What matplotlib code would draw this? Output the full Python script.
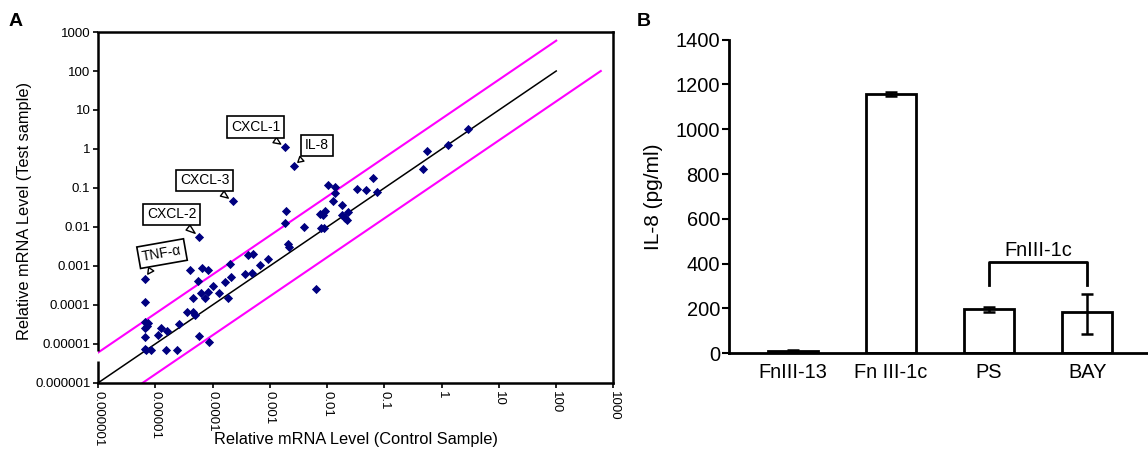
import matplotlib
matplotlib.use("Agg")
import matplotlib.pyplot as plt
from matplotlib.ticker import FixedLocator, NullLocator

plt.rcParams['font.family'] = ['Liberation Sans', 'DejaVu Sans']

# ---- panel A data: relative mRNA levels (control vs test) ----
ctrl = [2.9, 1.27, 0.56, 0.47, 0.063, 0.073, 0.048, 0.033, 0.0103, 0.0137,
        0.014, 0.0127, 0.0183, 0.0236, 0.018, 0.0204, 0.0218, 0.0075, 0.0092, 0.0085,
        0.0079, 0.0088, 0.0040, 0.00192, 0.00183, 0.0021, 0.0022, 0.0064,
        0.00186, 0.0026, 0.000225, 5.9e-5, 6.5e-6,
        6.5e-6, 6.5e-6, 6.5e-6, 7.6e-6, 7.2e-6, 6.5e-6, 6.5e-6, 7.0e-6, 8.3e-6,
        1.1e-5, 1.27e-5, 1.6e-5, 1.56e-5, 2.35e-5, 2.6e-5, 3.6e-5, 4.5e-5, 5.0e-5,
        4.5e-5, 5.9e-5, 8.5e-5, 4.0e-5, 6.5e-5, 8.3e-5, 5.5e-5, 6.3e-5, 7.5e-5,
        8.3e-5, 1.0e-4, 1.31e-4, 1.83e-4, 1.66e-4, 2.07e-4, 1.98e-4, 3.7e-4, 4.9e-4,
        4.2e-4, 5.1e-4, 6.6e-4, 9.2e-4]
test = [3.2, 1.25, 0.91, 0.30, 0.183, 0.081, 0.088, 0.093, 0.12, 0.107,
        0.076, 0.045, 0.037, 0.024, 0.020, 0.017, 0.015, 0.022, 0.026, 0.020,
        0.0095, 0.0095, 0.0101, 0.0256, 0.013, 0.0036, 0.0030, 0.00025,
        1.11, 0.366, 0.045, 0.0056, 0.00047,
        0.000121, 3.7e-5, 2.6e-5, 3.4e-5, 2.9e-5, 1.54e-5, 7.3e-6, 7.0e-6, 7.1e-6,
        1.67e-5, 2.6e-5, 2.2e-5, 7.0e-6, 7.0e-6, 3.3e-5, 6.7e-5, 6.4e-5, 5.6e-5,
        1.48e-4, 1.6e-5, 1.15e-5, 7.7e-4, 8.8e-4, 7.7e-4, 4.2e-4, 2.0e-4, 1.48e-4,
        2.2e-4, 3.0e-4, 2.0e-4, 1.48e-4, 3.8e-4, 5.2e-4, 1.1e-3, 6.3e-4, 6.7e-4,
        1.95e-3, 2.07e-3, 1.03e-3, 1.48e-3]

# callouts: label, point (ctrl, test), box centre
callout_labels = ['CXCL-1', 'IL-8', 'CXCL-3', 'CXCL-2', 'TNF-α']
callout_points = [(0.00186, 1.11), (0.0026, 0.366), (0.000225, 0.045),
                  (5.9e-5, 0.0056), (6.5e-6, 0.00047)]
callout_boxes = [(5.6e-4, 3.65), (6.7e-3, 1.23), (7.3e-5, 0.156),
                 (1.92e-5, 0.021), (1.31e-5, 2.07e-3)]
callout_rot = [0, 0, 0, 0, 10]

decades = [1e-6, 1e-5, 1e-4, 1e-3, 1e-2, 1e-1, 1, 10, 100, 1000]
decade_labels = ['0.000001', '0.00001', '0.0001', '0.001', '0.01', '0.1',
                 '1', '10', '100', '1000']
fold = 6

# ---- panel B data ----
cats = ['FnIII-13', 'Fn III-1c', 'PS', 'BAY']
il8 = [10, 1158, 195, 182]
err_lo = [6, 10, 10, 95]
err_hi = [6, 10, 10, 81]

fig = plt.figure(figsize=(11.48, 4.51), dpi=100)
axA = fig.add_axes([0.0854, 0.151, 0.449, 0.778])
axB = fig.add_axes([0.635, 0.217, 0.365, 0.695])

# ---------------- panel A ----------------
axA.set_xscale('log')
axA.set_yscale('log')
axA.set_xlim(1e-6, 1e3)
axA.set_ylim(1e-6, 1e3)

axA.plot([1e-6, 100], [1e-6, 100], color='black', lw=1.1, zorder=2)
axA.plot([1e-6, 100], [fold * 1e-6, fold * 100], color='#ff00ff', lw=1.5, zorder=2)
axA.plot([fold * 1e-6, fold * 100], [1e-6, 100], color='#ff00ff', lw=1.5, zorder=2)

axA.scatter(ctrl, test, marker='D', s=22, color='#000080', linewidths=0, zorder=3)

for lab, pt, box, rot in zip(callout_labels, callout_points, callout_boxes, callout_rot):
    axA.annotate(lab, xy=pt, xytext=box, ha='center', va='center', fontsize=10,
                 rotation=rot, zorder=4,
                 bbox=dict(boxstyle='square,pad=0.28', fc='white', ec='black', lw=1.2),
                 arrowprops=dict(arrowstyle='wedge,tail_width=0.45,shrink_factor=0.5',
                                 fc='white', ec='black', lw=1.0, shrinkB=4))

axA.xaxis.set_major_locator(FixedLocator(decades))
axA.yaxis.set_major_locator(FixedLocator(decades))
axA.xaxis.set_minor_locator(NullLocator())
axA.yaxis.set_minor_locator(NullLocator())
axA.set_xticklabels(decade_labels, rotation=-90)
axA.set_yticklabels(decade_labels)
axA.tick_params(direction='out', length=3.5, width=1.2, labelsize=9.5, pad=2)

for s in ['top', 'right', 'bottom']:
    axA.spines[s].set_linewidth(1.8)
# left spine drawn in two pieces to show the axis break
axA.spines['left'].set_visible(False)
ytr = axA.get_yaxis_transform()
axA.plot([0, 0], [1e-6, 10 ** -5.43], transform=ytr, color='black', lw=1.8,
         clip_on=False, solid_capstyle='butt')
axA.plot([0, 0], [10 ** -5.19, 1e3], transform=ytr, color='black', lw=1.8,
         clip_on=False, solid_capstyle='butt')

axA.set_xlabel('Relative mRNA Level (Control Sample)', fontsize=11.8)
axA.xaxis.set_label_coords(0.5, -0.16)
axA.xaxis.label.set_va('center')
axA.set_ylabel('Relative mRNA Level (Test sample)', fontsize=11.8)
axA.yaxis.set_label_coords(-0.142, 0.49)
axA.yaxis.label.set_va('center')

# ---------------- panel B ----------------
x = list(range(len(cats)))
axB.bar(x, il8, width=0.51, color='white', edgecolor='black', linewidth=2, zorder=2)
axB.errorbar(x, il8, yerr=[err_lo, err_hi], fmt='none', ecolor='black',
             elinewidth=1.8, capsize=4, capthick=1.8, zorder=3)
axB.set_xlim(-0.65, 3.62)
axB.set_ylim(0, 1400)
axB.set_yticks(range(0, 1401, 200))
axB.set_xticks(x)
axB.set_xticklabels(cats)
axB.spines['top'].set_visible(False)
axB.spines['right'].set_visible(False)
axB.spines['left'].set_linewidth(2)
axB.spines['bottom'].set_linewidth(2)
axB.tick_params(axis='y', direction='out', length=5, width=1.5, labelsize=14.4, pad=1.5)
axB.tick_params(axis='x', length=0, labelsize=14.4, pad=7)

axB.plot([2, 2, 3, 3], [305, 408, 408, 305], color='black', lw=2)
axB.text(2.5, 457, 'FnIII-1c', ha='center', va='center', fontsize=14.4)

axB.set_ylabel('IL-8 (pg/ml)', fontsize=15)
axB.yaxis.set_label_coords(-0.18, 0.5)
axB.yaxis.label.set_va('center')

fig.text(16 / 1148, 1 - 22 / 451, 'A', fontsize=14, fontweight='bold', ha='center', va='center')
fig.text(644 / 1148, 1 - 21 / 451, 'B', fontsize=14, fontweight='bold', ha='center', va='center')

fig.savefig('out.png', dpi=100)
